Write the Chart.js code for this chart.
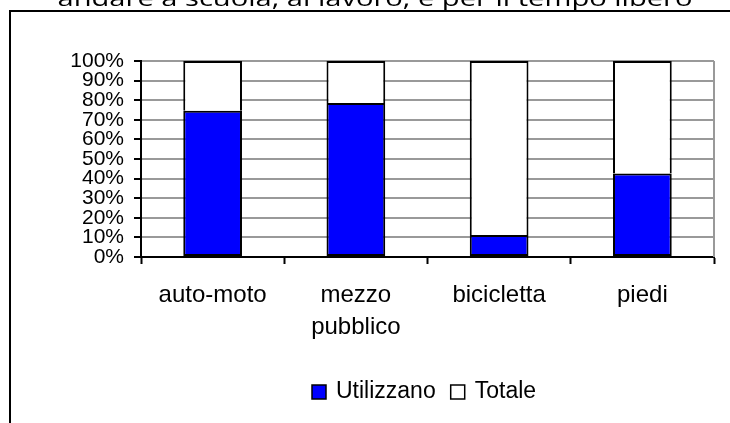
<!DOCTYPE html>
<html>
<head>
<meta charset="utf-8">
<script src="https://cdn.jsdelivr.net/npm/chart.js@4.4.0/dist/chart.umd.min.js"></script>
<style>
  html, body { margin: 0; padding: 0; background: #fff; }
  #wrap { width: 730px; height: 423px; position: relative; }
</style>
</head>
<body>
<div id="wrap"><canvas id="chart" width="730" height="423"></canvas></div>
<script>
// dati
const categories = ["auto-moto", ["mezzo", "pubblico"], "bicicletta", "piedi"];
const utilizzano = [74.6, 78.6, 11.2, 42.6];
const totale = [25.4, 21.4, 88.8, 57.4];
const yTicks = [0, 10, 20, 30, 40, 50, 60, 70, 80, 90, 100];
const titleText = "andare a scuola, al lavoro, e per il tempo libero";

const ctx = document.getElementById("chart").getContext("2d");

// cornice, titolo tagliato, bordo destro e legenda
const decor = {
  id: "decor",
  afterDraw(chart) {
    const c = chart.ctx;
    const a = chart.chartArea;
    c.save();

    // bordo destro area grafico
    c.strokeStyle = "#999";
    c.lineWidth = 2;
    c.beginPath();
    c.moveTo(a.right, a.top);
    c.lineTo(a.right, a.bottom);
    c.stroke();

    // cornice
    c.strokeStyle = "#000";
    c.lineWidth = 2;
    c.beginPath();
    c.moveTo(10, 423);
    c.lineTo(10, 11);
    c.lineTo(730, 11);
    c.stroke();

    // titolo (parzialmente fuori)
    c.fillStyle = "#000";
    c.font = "22px 'Open Sans'";
    const w = c.measureText(titleText).width;
    c.save();
    c.translate(375, 6);
    c.scale(635 / w, 1);
    c.textAlign = "center";
    c.textBaseline = "alphabetic";
    c.fillText(titleText, 0, 0);
    c.restore();

    // legenda
    c.font = "23px 'Liberation Sans', Arial";
    c.textBaseline = "middle";
    c.textAlign = "left";
    let x = 312;
    chart.data.datasets.forEach((ds) => {
      c.fillStyle = ds.backgroundColor;
      c.fillRect(x, 385, 14, 14);
      c.strokeStyle = "#000";
      c.lineWidth = 1.5;
      c.strokeRect(x, 385, 14, 14);
      c.fillStyle = "#000";
      c.fillText(ds.label, x + 24, 392);
      x += 24 + c.measureText(ds.label).width + 15;
    });
    c.restore();
  },
};

new Chart(ctx, {
  type: "bar",
  data: {
    labels: categories,
    datasets: [
      {
        label: "Utilizzano",
        data: utilizzano,
        backgroundColor: "#0000ff",
        borderColor: "#000",
        borderWidth: 2,
        borderSkipped: false,
      },
      {
        label: "Totale",
        data: totale,
        backgroundColor: "#ffffff",
        borderColor: "#000",
        borderWidth: 2,
        borderSkipped: "bottom",
      },
    ],
  },
  options: {
    responsive: false,
    animation: false,
    layout: { padding: { top: 61, right: 16, bottom: 0, left: 0 } },
    datasets: { bar: { categoryPercentage: 1, barPercentage: 0.41 } },
    plugins: {
      legend: { display: false },
      tooltip: { enabled: false },
    },
    scales: {
      x: {
        stacked: true,
        afterFit: (s) => { s.height = 166; },
        grid: {
          drawOnChartArea: false,
          drawTicks: true,
          tickLength: 7,
          tickColor: "#000",
          tickWidth: 2,
          offset: true,
        },
        border: { color: "#000", width: 2 },
        ticks: {
          color: "#000",
          padding: 15,
          maxRotation: 0,
          font: { family: "'Liberation Sans', Arial", size: 24, lineHeight: 1.35 },
        },
      },
      y: {
        stacked: true,
        min: 0,
        max: 100,
        afterFit: (s) => { s.width = 141; },
        afterBuildTicks: (s) => { s.ticks = yTicks.map((v) => ({ value: v })); },
        grid: {
          color: "#999",
          lineWidth: 2,
          tickLength: 7,
          tickColor: "#000",
          tickWidth: 2,
        },
        border: { color: "#000", width: 2 },
        ticks: {
          color: "#000",
          padding: 10,
          autoSkip: false,
          font: { family: "'Liberation Sans', Arial", size: 21 },
          callback: (v) => v + "%",
        },
      },
    },
  },
  plugins: [decor],
});
</script>
</body>
</html>
